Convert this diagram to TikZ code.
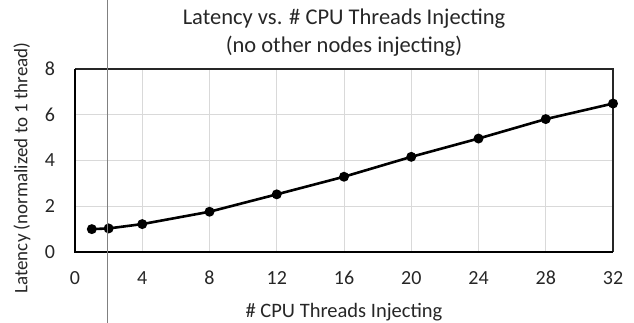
\documentclass[tikz,border=0pt]{standalone}
\usepackage{fontspec}
\setmainfont{Carlito}
\usetikzlibrary{positioning}
\definecolor{gridgray}{RGB}{217,217,217}
\definecolor{labelgray}{RGB}{38,38,38}
\definecolor{strokegray}{RGB}{128,128,128}

\begin{document}
\begin{tikzpicture}[x=1pt,y=1pt,
    gridline/.style={gridgray, line width=1pt},
    axisframe/.style={black, line width=2pt},
    sideframe/.style={black!85, line width=1.2pt},
    dataline/.style={black, line width=2.6pt, line join=round},
    ticklabel/.style={text=labelgray, font=\fontsize{20}{24}\selectfont},
    axistitle/.style={text=labelgray, font=\fontsize{20.5}{24}\selectfont},
    titletext/.style={text=labelgray, font=\fontsize{22.5}{27}\selectfont}]
\useasboundingbox (0,0) rectangle (634,323);

\node[titletext] (title) at (344,304) {Latency vs. \# CPU Threads Injecting};
\node[titletext] (subtitle) at (344,277) {(no other nodes injecting)};
\node[axistitle] (xtitle) at (344,11) {\# CPU Threads Injecting};
\node[axistitle, font=\fontsize{19}{23}\selectfont, rotate=90] (ytitle) at (22,155) {Latency (normalized to 1 thread)};

\begin{scope}[shift={(75,71)}, x=16.8125pt, y=22.875pt]
    \foreach \x in {4,8,...,28} \draw[gridline] (\x,0) -- (\x,8);
    \foreach \y in {2,4,6} \draw[gridline] (0,\y) -- (32,\y);
    \draw[sideframe] (0,8) -- (32,8) -- (32,0);
    \draw[axisframe] (0,8) -- (0,0) -- (32,0);

    \foreach \x in {0,4,...,32} \node[ticklabel] (xt\x) at (\x,-1.14) {\x};
    \foreach \y in {0,2,...,8} \node[ticklabel] (yt\y) at (-1.49,\y) {\y};

    \foreach \x/\y [count=\i] in {1/1.0, 2/1.03, 4/1.22, 8/1.76, 12/2.52,
        16/3.29, 20/4.16, 24/4.96, 28/5.81, 32/6.49}
        \coordinate (p\i) at (\x,\y);
    \draw[dataline] (p1) \foreach \i in {2,...,10} { -- (p\i)};
    \foreach \i in {1,...,10} \fill (p\i) circle (5pt);
\end{scope}

\draw[strokegray, line width=0.8pt] (107,0) -- (107,323);
\end{tikzpicture}
\end{document}
